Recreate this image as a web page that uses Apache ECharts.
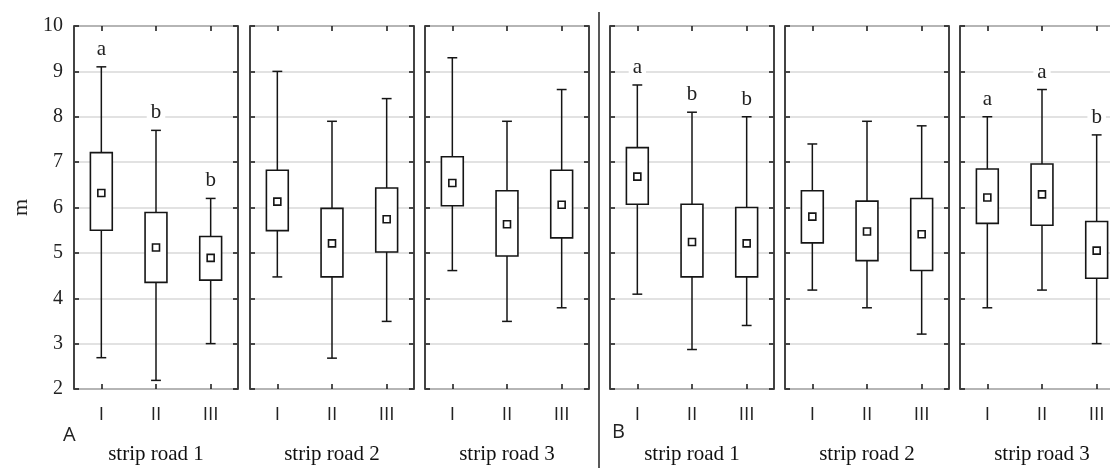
<!DOCTYPE html>
<html>
<head>
<meta charset="utf-8">
<script src="https://cdn.jsdelivr.net/npm/echarts@6/dist/echarts.min.js"></script>
<style>
  html, body { margin: 0; padding: 0; background: #fff; overflow: hidden; }
  #chart { width: 1110px; height: 468px; }
</style>
</head>
<body>
<div id="chart"></div>
<script>
// ---- data ----
const categories = ['I', 'II', 'III'];
const panelNames = ['strip road 1', 'strip road 2', 'strip road 3', 'strip road 1', 'strip road 2', 'strip road 3'];
const groupLabels = ['A', 'B'];
const yTicks = [2, 3, 4, 5, 6, 7, 8, 9, 10];

// per panel (A1, A2, A3, B1, B2, B3), per category (I, II, III)
const whiskerHigh = [
  [9.10, 7.70, 6.20],
  [9.00, 7.90, 8.40],
  [9.30, 7.90, 8.60],
  [8.70, 8.10, 8.00],
  [7.40, 7.90, 7.80],
  [8.00, 8.60, 7.60]
];
const boxHigh = [
  [7.21, 5.89, 5.36],
  [6.82, 5.98, 6.43],
  [7.12, 6.37, 6.82],
  [7.32, 6.07, 6.00],
  [6.37, 6.14, 6.20],
  [6.85, 6.96, 5.69]
];
const meanValue = [
  [6.32, 5.12, 4.89],
  [6.13, 5.21, 5.74],
  [6.54, 5.63, 6.06],
  [6.68, 5.24, 5.21],
  [5.80, 5.47, 5.41],
  [6.22, 6.29, 5.05]
];
const boxLow = [
  [5.50, 4.35, 4.40],
  [5.49, 4.47, 5.02],
  [6.04, 4.93, 5.33],
  [6.07, 4.47, 4.47],
  [5.22, 4.83, 4.61],
  [5.65, 5.61, 4.44]
];
const whiskerLow = [
  [2.69, 2.19, 3.00],
  [4.47, 2.68, 3.49],
  [4.61, 3.49, 3.79],
  [4.09, 2.87, 3.40],
  [4.18, 3.79, 3.21],
  [3.79, 4.18, 3.00]
];
const letters = [
  ['a', 'b', 'b'],
  ['', '', ''],
  ['', '', ''],
  ['a', 'b', 'b'],
  ['', '', ''],
  ['a', 'a', 'b']
];

// ---- layout / style ----
const gridLefts = [74, 250, 425, 610, 785, 960];
const gridW = 164, gridTop = 26, gridH = 363;
const ink = '#151515';
const serif = '"Liberation Serif", "DejaVu Serif", serif';
const sans = '"Open Sans", "DejaVu Sans", sans-serif';

function makeRender(p) {
  return function (params, api) {
    const i = api.value(0);
    const band = api.size([1, 0])[0];
    const bw = band * 0.40;
    const cw = band * 0.18;
    const pMax = api.coord([i, api.value(5)]);
    const pQ3 = api.coord([i, api.value(4)]);
    const pMean = api.coord([i, api.value(3)]);
    const pQ1 = api.coord([i, api.value(2)]);
    const pMin = api.coord([i, api.value(1)]);
    const cx = pMax[0];
    const ls = { stroke: ink, lineWidth: 1.5, fill: null };
    const children = [
      { type: 'line', shape: { x1: cx, y1: pMax[1], x2: cx, y2: pQ3[1] }, style: ls },
      { type: 'line', shape: { x1: cx, y1: pQ1[1], x2: cx, y2: pMin[1] }, style: ls },
      { type: 'line', shape: { x1: cx - cw / 2, y1: pMax[1], x2: cx + cw / 2, y2: pMax[1] }, style: ls },
      { type: 'line', shape: { x1: cx - cw / 2, y1: pMin[1], x2: cx + cw / 2, y2: pMin[1] }, style: ls },
      { type: 'rect', shape: { x: cx - bw / 2, y: pQ3[1], width: bw, height: pQ1[1] - pQ3[1] },
        style: { stroke: ink, lineWidth: 1.6, fill: '#fff' } },
      { type: 'rect', shape: { x: cx - 3.5, y: pMean[1] - 3.5, width: 7, height: 7 },
        style: { stroke: ink, lineWidth: 1.6, fill: '#fff' } }
    ];
    const L = letters[p][params.dataIndex];
    if (L) {
      children.push({
        type: 'text', z2: 10,
        style: {
          text: L, x: cx, y: pMax[1] - 7, align: 'center', verticalAlign: 'bottom',
          font: '21px ' + serif, fill: '#222', backgroundColor: '#fff', padding: [0, 4]
        }
      });
    }
    return { type: 'group', children: children };
  };
}

const grids = [], xAxes = [], yAxes = [], series = [];
gridLefts.forEach(function (left, p) {
  grids.push({ left: left, top: gridTop, width: gridW, height: gridH, show: true,
    outerBoundsMode: 'none', containLabel: false,
    borderColor: ink, borderWidth: 1.6, backgroundColor: 'transparent' });
  const tick = { show: true, inside: true, alignWithLabel: true, length: 5, lineStyle: { color: ink, width: 1.5 } };
  xAxes.push({
    gridIndex: p, type: 'category', data: categories, position: 'bottom',
    axisLine: { show: false }, axisTick: tick,
    axisLabel: { fontFamily: sans, fontSize: 19, color: '#222', margin: 16 },
    name: panelNames[p], nameLocation: 'middle', nameGap: 55,
    nameTextStyle: { fontFamily: serif, fontSize: 21, color: '#111' }
  });
  xAxes.push({
    gridIndex: p, type: 'category', data: categories, position: 'top',
    axisLine: { show: false }, axisTick: tick, axisLabel: { show: false }
  });
  yAxes.push({
    gridIndex: p, type: 'value', min: yTicks[0], max: yTicks[yTicks.length - 1], interval: 1,
    position: 'left', axisLine: { show: false },
    axisTick: { show: true, inside: true, length: 5, lineStyle: { color: ink, width: 1.5 } },
    splitLine: { show: true, lineStyle: { color: '#d9d9d9', width: 1.5 } },
    axisLabel: { show: p === 0, fontFamily: serif, fontSize: 20, color: '#222', margin: 11 },
    name: p === 0 ? 'm' : '', nameLocation: 'middle', nameRotate: 90, nameGap: 42,
    nameTextStyle: { fontFamily: serif, fontSize: 22, color: '#222' }
  });
  yAxes.push({
    gridIndex: p, type: 'value', min: yTicks[0], max: yTicks[yTicks.length - 1], interval: 1,
    position: 'right', axisLine: { show: false },
    axisTick: { show: true, inside: true, length: 5, lineStyle: { color: ink, width: 1.5 } },
    splitLine: { show: false }, axisLabel: { show: false }
  });
  const data = categories.map(function (c, i) {
    return [i, whiskerLow[p][i], boxLow[p][i], meanValue[p][i], boxHigh[p][i], whiskerHigh[p][i]];
  });
  series.push({
    type: 'custom', xAxisIndex: 2 * p, yAxisIndex: 2 * p,
    renderItem: makeRender(p),
    encode: { x: 0, y: [1, 2, 3, 4, 5] },
    data: data, silent: true, z: 5
  });
});

const chart = echarts.init(document.getElementById('chart'), null, { renderer: 'canvas' });
chart.setOption({
  animation: false,
  backgroundColor: '#fff',
  grid: grids, xAxis: xAxes, yAxis: yAxes, series: series,
  graphic: [
    { type: 'line', shape: { x1: 599, y1: 12, x2: 599, y2: 470 }, style: { stroke: '#222', lineWidth: 1.5 } },
    { type: 'text', left: 63, top: 425, style: { text: groupLabels[0], font: '20px ' + sans, fill: '#222' } },
    { type: 'text', left: 612, top: 422, style: { text: groupLabels[1], font: '20px ' + sans, fill: '#222' } }
  ]
});
</script>
</body>
</html>
